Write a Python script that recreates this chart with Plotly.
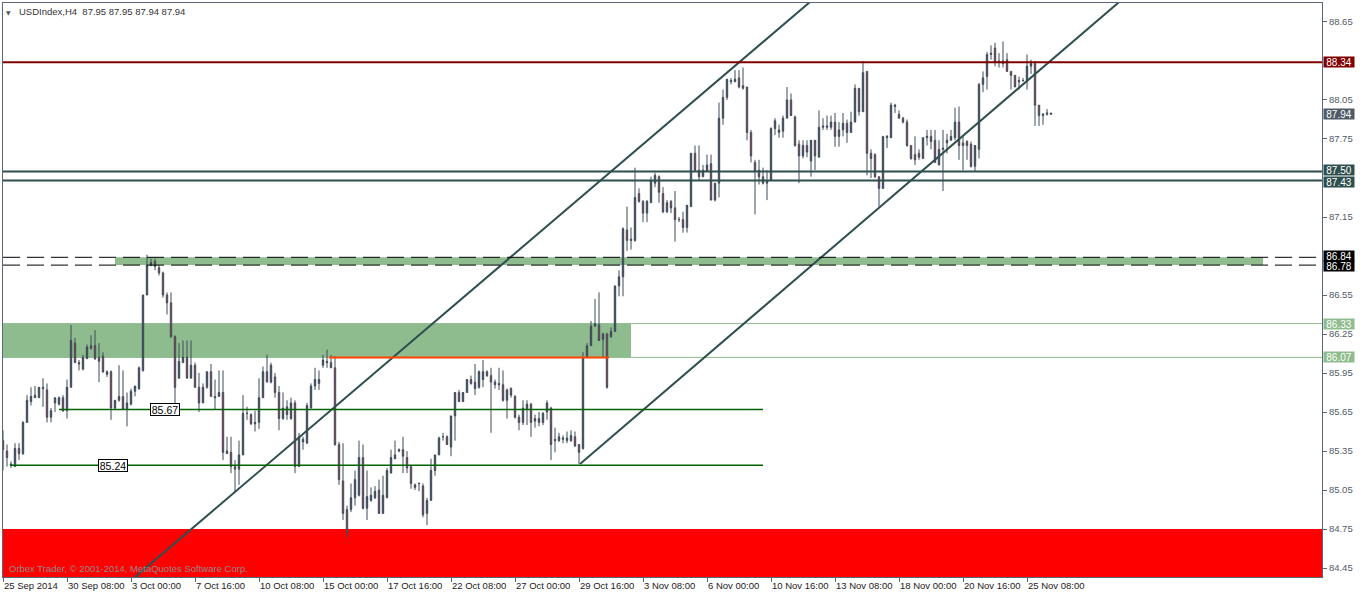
import plotly.graph_objects as go

# ---------------- data (USDIndex, H4 candles) ----------------
open_ = [
    85.43, 85.35, 85.25, 85.23, 85.37, 85.33, 85.57, 85.73, 85.78, 85.76,
    85.84, 85.82, 85.61, 85.72, 85.71, 85.76, 85.66, 85.84, 86.18, 86.03,
    85.98, 86.06, 86.16, 86.16, 86.07, 86.08, 85.94, 85.96, 85.68, 85.74,
    85.77, 85.67, 85.71, 85.81, 85.83, 85.97, 86.55, 86.78, 86.81, 86.76,
    86.72, 86.55, 86.49, 86.23, 85.91, 86.03, 86.07, 85.91, 86.01, 85.84,
    85.72, 85.84, 85.96, 85.77, 85.77, 85.80, 85.35, 85.34, 85.23, 85.21,
    85.32, 85.64, 85.63, 85.56, 85.57, 85.76, 85.96, 85.88, 85.92, 85.80,
    85.60, 85.69, 85.60, 85.72, 85.23, 85.42, 85.41, 85.68, 85.85, 85.87,
    86.01, 86.04, 86.03, 85.99, 85.40, 85.12, 84.90, 84.90, 84.99, 85.01,
    85.30, 84.91, 84.97, 84.99, 85.05, 84.87, 84.99, 85.18, 85.29, 85.35,
    85.36, 85.30, 85.23, 85.09, 85.10, 85.08, 84.87, 84.97, 85.20, 85.32,
    85.46, 85.46, 85.38, 85.62, 85.80, 85.73, 85.80, 85.90, 85.88, 85.84,
    85.90, 85.96, 85.93, 85.86, 85.87, 85.86, 85.74, 85.83, 85.77, 85.61,
    85.57, 85.67, 85.71, 85.58, 85.60, 85.57, 85.65, 85.68, 85.44, 85.43,
    85.44, 85.43, 85.43, 85.46, 85.40, 85.37, 86.07, 86.16, 86.31, 86.32,
    86.21, 86.25, 86.23, 86.27, 86.62, 86.69, 87.05, 86.98, 86.97, 87.33,
    87.27, 87.18, 87.26, 87.41, 87.46, 87.33, 87.19, 87.27, 87.22, 87.13,
    87.13, 87.07, 87.23, 87.64, 87.51, 87.46, 87.50, 87.56, 87.28, 87.41,
    87.91, 88.07, 88.19, 88.19, 88.22, 88.16, 88.15, 87.80, 87.57, 87.51,
    87.46, 87.41, 87.43, 87.83, 87.82, 87.81, 87.91, 88.05, 87.92, 87.71,
    87.62, 87.70, 87.58, 87.74, 87.61, 87.84, 87.84, 87.84, 87.88, 87.77,
    87.82, 87.87, 87.80, 87.88, 88.14, 87.96, 88.27, 87.64, 87.63, 87.46,
    87.37, 87.76, 87.76, 88.00, 87.94, 87.91, 87.88, 87.70, 87.63, 87.64,
    87.60, 87.76, 87.77, 87.74, 87.55, 87.67, 87.72, 87.74, 87.76, 87.88,
    87.72, 87.73, 87.71, 87.54, 87.67, 88.17, 88.23, 88.40, 88.45, 88.35,
    88.35, 88.36, 88.27, 88.24, 88.19, 88.20, 88.20, 88.31, 88.33, 88.01,
    87.93, 87.94, 87.95,
]
high_ = [
    85.51, 85.40, 85.27, 85.41, 85.41, 85.58, 85.78, 85.84, 85.85, 85.84,
    85.91, 85.87, 85.68, 85.76, 85.77, 85.78, 85.90, 86.32, 86.22, 86.05,
    86.09, 86.17, 86.24, 86.28, 86.18, 86.11, 85.97, 85.97, 85.74, 86.01,
    85.97, 85.80, 85.83, 85.85, 86.00, 86.55, 86.86, 86.83, 86.83, 86.78,
    86.73, 86.57, 86.57, 86.24, 86.18, 86.20, 86.20, 86.20, 86.03, 85.95,
    85.87, 85.96, 86.02, 85.90, 85.97, 85.97, 85.46, 85.46, 85.28, 85.43,
    85.78, 85.69, 85.64, 85.66, 85.91, 86.00, 86.09, 86.03, 85.95, 85.85,
    85.80, 85.74, 85.76, 85.74, 85.49, 85.46, 85.72, 85.87, 85.99, 85.97,
    86.09, 86.13, 86.09, 86.08, 85.42, 85.41, 84.93, 85.10, 85.20, 85.43,
    85.40, 85.20, 85.07, 85.08, 85.13, 85.16, 85.22, 85.36, 85.43, 85.37,
    85.46, 85.35, 85.23, 85.10, 85.11, 85.10, 84.99, 85.29, 85.32, 85.46,
    85.49, 85.47, 85.62, 85.80, 85.82, 85.80, 85.90, 85.93, 86.02, 85.97,
    86.05, 85.97, 85.99, 85.90, 85.99, 85.97, 85.83, 85.84, 85.78, 85.63,
    85.74, 85.74, 85.72, 85.63, 85.65, 85.65, 85.74, 85.69, 85.53, 85.49,
    85.47, 85.50, 85.51, 85.50, 85.40, 86.11, 86.18, 86.35, 86.52, 86.57,
    86.26, 86.26, 86.30, 86.62, 86.74, 87.07, 87.23, 87.07, 87.53, 87.37,
    87.28, 87.28, 87.46, 87.49, 87.47, 87.38, 87.28, 87.28, 87.35, 87.15,
    87.19, 87.24, 87.64, 87.70, 87.70, 87.55, 87.63, 87.63, 87.41, 88.03,
    88.13, 88.21, 88.22, 88.28, 88.28, 88.30, 88.15, 87.82, 87.59, 87.59,
    87.53, 87.51, 87.84, 87.91, 87.86, 87.93, 88.15, 88.10, 87.93, 87.74,
    87.74, 87.74, 87.74, 87.74, 87.97, 87.91, 87.93, 87.93, 87.95, 87.88,
    87.95, 87.90, 87.96, 88.17, 88.14, 88.35, 88.27, 87.67, 87.64, 87.46,
    87.77, 87.78, 88.03, 88.02, 87.97, 87.92, 87.90, 87.70, 87.77, 87.67,
    87.76, 87.82, 87.82, 87.82, 87.74, 87.82, 87.79, 87.82, 87.99, 88.00,
    87.78, 87.74, 87.73, 87.70, 88.18, 88.27, 88.42, 88.47, 88.49, 88.41,
    88.50, 88.41, 88.27, 88.24, 88.23, 88.22, 88.40, 88.36, 88.35, 88.01,
    87.95, 87.98, 87.95,
]
low_ = [
    85.20, 85.23, 85.22, 85.23, 85.28, 85.32, 85.57, 85.70, 85.76, 85.76,
    85.69, 85.57, 85.57, 85.65, 85.70, 85.65, 85.60, 85.84, 86.03, 85.97,
    85.97, 86.06, 86.13, 86.05, 85.88, 85.95, 85.92, 85.59, 85.67, 85.73,
    85.67, 85.54, 85.70, 85.77, 85.82, 85.96, 86.55, 86.77, 86.74, 86.70,
    86.53, 86.40, 86.22, 85.70, 85.91, 86.03, 85.91, 85.91, 85.84, 85.65,
    85.72, 85.83, 85.77, 85.67, 85.77, 85.28, 85.33, 85.18, 85.03, 85.09,
    85.32, 85.59, 85.55, 85.50, 85.52, 85.76, 85.88, 85.87, 85.76, 85.51,
    85.59, 85.59, 85.59, 85.18, 85.23, 85.36, 85.41, 85.68, 85.82, 85.82,
    85.99, 85.99, 85.99, 85.39, 85.09, 84.82, 84.68, 84.88, 84.93, 85.00,
    84.90, 84.82, 84.96, 84.98, 84.87, 84.87, 84.99, 85.18, 85.29, 85.34,
    85.18, 85.18, 85.06, 85.05, 85.04, 84.84, 84.78, 84.97, 85.16, 85.32,
    85.43, 85.40, 85.31, 85.43, 85.73, 85.73, 85.80, 85.86, 85.78, 85.83,
    85.84, 85.92, 85.49, 85.83, 85.82, 85.73, 85.60, 85.76, 85.60, 85.51,
    85.55, 85.55, 85.46, 85.53, 85.54, 85.55, 85.59, 85.28, 85.34, 85.42,
    85.41, 85.41, 85.42, 85.38, 85.25, 85.36, 86.07, 86.16, 86.31, 86.20,
    86.07, 85.83, 86.22, 86.27, 86.54, 86.54, 86.89, 86.90, 86.96, 87.26,
    87.11, 87.11, 87.26, 87.38, 87.26, 87.18, 87.18, 87.18, 86.96, 87.11,
    87.03, 87.03, 87.23, 87.50, 87.43, 87.46, 87.50, 87.28, 87.27, 87.30,
    87.86, 88.05, 88.17, 88.19, 88.14, 88.13, 87.74, 87.57, 87.17, 87.40,
    87.40, 87.28, 87.43, 87.78, 87.76, 87.76, 87.91, 87.93, 87.69, 87.41,
    87.60, 87.61, 87.46, 87.51, 87.61, 87.82, 87.82, 87.82, 87.69, 87.69,
    87.77, 87.72, 87.80, 87.88, 87.93, 87.96, 87.47, 87.45, 87.45, 87.23,
    87.37, 87.68, 87.76, 87.95, 87.91, 87.87, 87.69, 87.59, 87.55, 87.59,
    87.60, 87.70, 87.67, 87.57, 87.55, 87.35, 87.64, 87.74, 87.74, 87.59,
    87.51, 87.59, 87.53, 87.50, 87.60, 88.11, 88.13, 88.36, 88.31, 88.30,
    88.30, 88.27, 88.13, 88.15, 88.13, 88.19, 88.13, 88.25, 87.85, 87.85,
    87.86, 87.93, 87.94,
]
close_ = [
    85.36, 85.30, 85.24, 85.37, 85.33, 85.57, 85.74, 85.77, 85.76, 85.84,
    85.83, 85.61, 85.66, 85.76, 85.76, 85.66, 85.84, 86.20, 86.03, 86.02,
    86.07, 86.15, 86.14, 86.06, 86.04, 85.96, 85.96, 85.68, 85.74, 85.77,
    85.67, 85.72, 85.81, 85.85, 85.99, 86.55, 86.78, 86.80, 86.77, 86.72,
    86.55, 86.49, 86.23, 85.84, 86.04, 86.07, 85.91, 86.01, 85.84, 85.72,
    85.84, 85.96, 85.77, 85.76, 85.80, 85.34, 85.33, 85.23, 85.21, 85.32,
    85.64, 85.64, 85.56, 85.57, 85.76, 85.96, 85.88, 86.01, 85.80, 85.60,
    85.68, 85.63, 85.72, 85.23, 85.46, 85.44, 85.70, 85.85, 85.90, 85.90,
    86.05, 86.03, 85.99, 85.40, 85.13, 84.87, 84.72, 84.99, 85.13, 85.30,
    84.91, 85.00, 85.01, 85.04, 84.87, 85.01, 85.20, 85.30, 85.32, 85.36,
    85.31, 85.22, 85.10, 85.07, 85.10, 84.86, 84.97, 85.20, 85.32, 85.45,
    85.46, 85.40, 85.62, 85.80, 85.73, 85.80, 85.90, 85.87, 85.83, 85.96,
    85.96, 85.93, 85.88, 85.88, 85.86, 85.74, 85.82, 85.78, 85.61, 85.57,
    85.68, 85.71, 85.57, 85.60, 85.57, 85.64, 85.72, 85.40, 85.43, 85.46,
    85.45, 85.45, 85.47, 85.39, 85.34, 86.07, 86.16, 86.31, 86.33, 86.20,
    86.25, 85.84, 86.27, 86.62, 86.69, 87.06, 86.97, 86.97, 87.30, 87.27,
    87.18, 87.27, 87.43, 87.47, 87.34, 87.19, 87.26, 87.22, 87.13, 87.13,
    87.07, 87.24, 87.64, 87.51, 87.46, 87.51, 87.55, 87.28, 87.41, 87.91,
    88.07, 88.21, 88.20, 88.21, 88.15, 88.14, 87.80, 87.62, 87.50, 87.46,
    87.41, 87.43, 87.83, 87.89, 87.80, 87.91, 88.05, 87.93, 87.70, 87.62,
    87.70, 87.65, 87.74, 87.62, 87.84, 87.85, 87.85, 87.88, 87.77, 87.82,
    87.87, 87.80, 87.88, 88.14, 87.96, 88.26, 87.64, 87.60, 87.46, 87.37,
    87.77, 87.77, 88.01, 88.01, 87.91, 87.88, 87.70, 87.60, 87.59, 87.61,
    87.76, 87.77, 87.73, 87.57, 87.67, 87.68, 87.74, 87.77, 87.88, 87.70,
    87.70, 87.70, 87.54, 87.70, 88.17, 88.22, 88.40, 88.41, 88.34, 88.34,
    88.33, 88.27, 88.24, 88.15, 88.20, 88.20, 88.31, 88.33, 88.01, 87.93,
    87.94, 87.95, 87.94,
]
bars = list(range(len(open_)))

# time axis labels (one every 16 H4 bars)
tick_bars = [0, 16, 32, 48, 64, 80, 96, 112, 128, 144, 160, 176, 192, 208, 224, 240, 256]
tick_labels = ["25 Sep 2014", "30 Sep 08:00", "3 Oct 00:00", "7 Oct 16:00", "10 Oct 08:00",
               "15 Oct 00:00", "17 Oct 16:00", "22 Oct 08:00", "27 Oct 00:00", "29 Oct 16:00",
               "3 Nov 08:00", "6 Nov 00:00", "10 Nov 16:00", "13 Nov 08:00", "18 Nov 00:00",
               "20 Nov 16:00", "25 Nov 08:00"]
price_ticks = [84.45, 84.75, 85.05, 85.35, 85.65, 85.95, 86.25, 86.55, 87.15, 87.75, 88.05, 88.65]

# drawn objects
resistance_level = 88.34
bid_level = 87.94
slate_levels = [87.50, 87.43]
dashed_levels = [86.84, 86.78]
green_zone = [86.07, 86.33]
red_zone_top = 84.75
support_levels = [85.67, 85.24]
support_starts = [14, 1.75]
support_end = 190
support_label_bars = [36.75, 23.75]
orange_level = 86.07
orange_span = [81.5, 151.5]
green_zone_end = 157
green_band_span = [28, 315]
upper_channel_bars = [33.0, 201.6]
upper_channel_prices = [84.38, 88.80]
lower_channel_bars = [144.25, 278.9]
lower_channel_prices = [85.25, 88.80]

GREY = "#3e4a58"
RED = "#e8343c"
SLATE = "#2f4f4f"
SEA = "#8fbc8f"
FONT = "Liberation Sans"

fig = go.Figure()
fig.add_trace(go.Candlestick(
    x=bars, open=open_, high=high_, low=low_, close=close_,
    increasing=dict(line=dict(color=GREY, width=1), fillcolor=GREY),
    decreasing=dict(line=dict(color=GREY, width=1), fillcolor=RED),
    whiskerwidth=0, showlegend=False, hoverinfo="skip"))

for bx, py in ((upper_channel_bars, upper_channel_prices), (lower_channel_bars, lower_channel_prices)):
    fig.add_trace(go.Scatter(x=bx, y=py, mode="lines", line=dict(color=SLATE, width=2),
                             showlegend=False, hoverinfo="skip"))

shapes = []
shapes.append(dict(type="rect", xref="paper", x0=0, x1=1, yref="y", y0=84.0, y1=red_zone_top,
                   fillcolor="#ff0000", line=dict(width=0), layer="below"))
shapes.append(dict(type="rect", xref="x", x0=-5, x1=green_zone_end, yref="y",
                   y0=green_zone[0], y1=green_zone[1], fillcolor=SEA, line=dict(width=0), layer="below"))
shapes.append(dict(type="rect", xref="x", x0=green_band_span[0], x1=green_band_span[1], yref="y",
                   y0=dashed_levels[1], y1=dashed_levels[0], fillcolor=SEA, line=dict(width=0), layer="below"))
for lv in green_zone:
    shapes.append(dict(type="line", xref="paper", x0=0, x1=1, yref="y", y0=lv, y1=lv,
                       line=dict(color=SEA, width=1), layer="below"))
for lv in dashed_levels:
    shapes.append(dict(type="line", xref="paper", x0=0, x1=1, yref="y", y0=lv, y1=lv,
                       line=dict(color="#000000", width=1, dash="17px,7px"), layer="above"))
for lv in slate_levels:
    shapes.append(dict(type="line", xref="paper", x0=0, x1=1, yref="y", y0=lv, y1=lv,
                       line=dict(color=SLATE, width=2), layer="above"))
shapes.append(dict(type="line", xref="paper", x0=0, x1=1, yref="y", y0=resistance_level,
                   y1=resistance_level, line=dict(color="#800000", width=2), layer="above"))
shapes.append(dict(type="line", xref="x", x0=orange_span[0], x1=orange_span[1], yref="y",
                   y0=orange_level, y1=orange_level, line=dict(color="#ff4500", width=2), layer="above"))
for lv, x0 in zip(support_levels, support_starts):
    shapes.append(dict(type="line", xref="x", x0=x0, x1=support_end, yref="y", y0=lv, y1=lv,
                       line=dict(color="#006400", width=1.5), layer="above"))

annotations = []
# (price, background colour, vertical nudge in px so stacked tags do not collide)
level_tags = [
    (resistance_level, "#800000", 0), (bid_level, "#4f5b66", 0),
    (slate_levels[0], SLATE, 1), (slate_levels[1], SLATE, -1),
    (dashed_levels[0], "#000000", 1), (dashed_levels[1], "#000000", -1),
    (green_zone[1], SEA, 0), (green_zone[0], SEA, 0),
]
for lv, col, nudge in level_tags:
    annotations.append(dict(xref="paper", x=1, xanchor="left", xshift=1, yref="y", y=lv,
                            yanchor="middle", yshift=nudge, text=f"{lv:.2f}", showarrow=False,
                            bgcolor=col, font=dict(family=FONT, size=10, color="#ffffff"),
                            width=30, height=10, borderpad=0, align="center"))
for lv, bx in zip(support_levels, support_label_bars):
    annotations.append(dict(xref="x", x=bx, xanchor="left", yref="y", y=lv, yanchor="middle",
                            text=f"{lv:.2f}", showarrow=False, bgcolor="#ffffff",
                            bordercolor="#000000", borderwidth=1, borderpad=0,
                            width=28, height=11,
                            font=dict(family=FONT, size=10.5, color="#000000")))
annotations.append(dict(xref="paper", x=0, xanchor="left", xshift=1, yref="paper", y=1,
                        yanchor="top", yshift=-4, text="\u25bc", showarrow=False,
                        font=dict(family="DejaVu Sans", size=6, color="#505a64")))
annotations.append(dict(xref="paper", x=0, xanchor="left", xshift=14, yref="paper", y=1,
                        yanchor="top", yshift=-1,
                        text="USDIndex,H4\u00a0\u00a087.95 87.95 87.94 87.94", showarrow=False,
                        font=dict(family=FONT, size=9.5, color="#333333")))
annotations.append(dict(xref="paper", x=0, xanchor="left", xshift=4, yref="y", y=84.45,
                        yanchor="middle", text="Orbex Trader, \u00a9 2001-2014, MetaQuotes Software Corp.",
                        showarrow=False, font=dict(family=FONT, size=9.5, color="#8c8c8c")))

fig.update_layout(
    width=1362, height=594,
    margin=dict(l=3, r=40, t=3, b=17, autoexpand=False),
    paper_bgcolor="#ffffff", plot_bgcolor="#ffffff",
    boxgap=0.5,
    showlegend=False,
    shapes=shapes, annotations=annotations,
    xaxis=dict(range=[0, 329.75], tickvals=tick_bars, ticktext=tick_labels, tickangle=0,
               ticklabelposition="outside right", ticks="outside", ticklen=4, tickcolor="#5b6776",
               tickfont=dict(family=FONT, size=9.5, color="#1a1a1a"), automargin=False,
               showgrid=False, zeroline=False, showline=True, linecolor="#5b6776", linewidth=1,
               mirror=True, rangeslider=dict(visible=False), fixedrange=True),
    yaxis=dict(range=[84.381, 88.796], side="right", tickvals=price_ticks,
               ticktext=[f"{v:.2f}" for v in price_ticks], ticks="outside", ticklen=4,
               tickcolor="#5b6776", tickfont=dict(family=FONT, size=9.5, color="#4f5b69"),
               automargin=False,
               showgrid=False, zeroline=False, showline=True, linecolor="#5b6776", linewidth=1,
               mirror=True, fixedrange=True),
)

fig.write_html("out.html", config={"displayModeBar": False},
               post_script="document.body.style.margin='0';document.body.style.overflow='hidden';")
